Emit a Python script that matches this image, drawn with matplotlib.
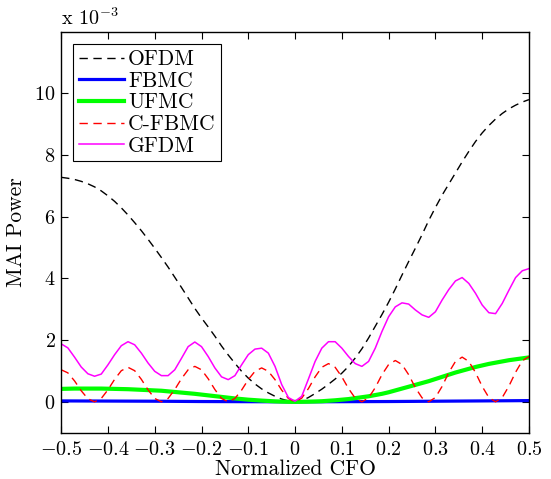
import numpy as np
import matplotlib
matplotlib.use('Agg')
import matplotlib.pyplot as plt
from matplotlib.ticker import FixedLocator, FuncFormatter

plt.rcParams['font.family'] = 'serif'
plt.rcParams['font.serif'] = ['cmr10']
plt.rcParams['mathtext.fontset'] = 'cm'
plt.rcParams['axes.formatter.use_mathtext'] = True

# normalized CFO grid, 71 points from -0.5 to 0.5 (step 1/70)
cfo = np.linspace(-0.5, 0.5, 71)

# MAI power, in units of 1e-3
ofdm = [7.28, 7.25, 7.21, 7.15, 7.07, 6.97, 6.84, 6.68, 6.50, 6.29,
        6.06, 5.81, 5.55, 5.27, 4.98, 4.68, 4.37, 4.04, 3.71, 3.37,
        3.03, 2.72, 2.43, 2.13, 1.81, 1.52, 1.25, 0.99, 0.77, 0.58,
        0.42, 0.29, 0.18, 0.09, 0.03, 0.00, 0.04, 0.14, 0.27, 0.41,
        0.57, 0.74, 0.93, 1.15, 1.42, 1.72, 2.07, 2.45, 2.83, 3.23,
        3.66, 4.11, 4.55, 4.98, 5.42, 5.88, 6.30, 6.70, 7.06, 7.42,
        7.78, 8.12, 8.44, 8.72, 8.96, 9.17, 9.35, 9.50, 9.62, 9.72,
        9.80]

fbmc_x = [-0.5, -0.4, -0.3, -0.2, -0.1, 0.0, 0.1, 0.2, 0.3, 0.4, 0.5]
fbmc = [0.03, 0.025, 0.02, 0.01, 0.005, 0.0, 0.005, 0.01, 0.02, 0.03, 0.04]

ufmc = [0.42, 0.425, 0.43, 0.43, 0.43, 0.43, 0.43, 0.425, 0.42, 0.415,
        0.41, 0.40, 0.39, 0.38, 0.37, 0.36, 0.34, 0.32, 0.30, 0.28,
        0.26, 0.235, 0.21, 0.185, 0.16, 0.135, 0.11, 0.09, 0.07, 0.055,
        0.04, 0.028, 0.016, 0.008, 0.002, 0.0, 0.002, 0.006, 0.012, 0.02,
        0.035, 0.05, 0.07, 0.09, 0.12, 0.15, 0.18, 0.22, 0.26, 0.31,
        0.37, 0.43, 0.49, 0.55, 0.61, 0.67, 0.74, 0.81, 0.88, 0.95,
        1.01, 1.07, 1.13, 1.18, 1.23, 1.27, 1.31, 1.35, 1.38, 1.41,
        1.44]

cfbmc = [1.04, 0.94, 0.68, 0.36, 0.10, 0.0, 0.11, 0.39, 0.73, 1.01,
         1.12, 1.01, 0.73, 0.39, 0.11, 0.0, 0.11, 0.40, 0.75, 1.04,
         1.15, 1.04, 0.75, 0.40, 0.11, 0.0, 0.11, 0.38, 0.72, 0.99,
         1.10, 0.99, 0.72, 0.38, 0.11, 0.0, 0.12, 0.43, 0.81, 1.12,
         1.24, 1.12, 0.81, 0.43, 0.12, 0.0, 0.13, 0.46, 0.88, 1.21,
         1.34, 1.21, 0.88, 0.46, 0.13, 0.0, 0.14, 0.50, 0.95, 1.31,
         1.45, 1.31, 0.95, 0.50, 0.14, 0.0, 0.14, 0.51, 0.96, 1.33,
         1.47]

gfdm = [1.88, 1.75, 1.45, 1.13, 0.91, 0.83, 0.90, 1.20, 1.53, 1.82,
        1.95, 1.85, 1.58, 1.26, 0.99, 0.85, 0.85, 1.04, 1.41, 1.79,
        1.94, 1.79, 1.47, 1.10, 0.81, 0.72, 0.85, 1.20, 1.53, 1.71,
        1.74, 1.58, 1.15, 0.56, 0.14, 0.02, 0.18, 0.74, 1.31, 1.74,
        1.95, 1.95, 1.74, 1.47, 1.24, 1.15, 1.31, 1.74, 2.28, 2.76,
        3.08, 3.21, 3.17, 2.98, 2.82, 2.74, 2.92, 3.30, 3.64, 3.92,
        4.03, 3.84, 3.52, 3.14, 2.89, 2.86, 3.19, 3.62, 4.03, 4.25,
        4.32]

escala = 1e-3

fig = plt.figure(figsize=(5.51, 4.79), dpi=100)
ax = fig.add_axes([0.111, 0.0967, 0.849, 0.837])

ax.plot(cfo, np.array(ofdm) * escala, color='k', lw=1.0, dashes=(6, 4), label='OFDM')
ax.plot(fbmc_x, np.array(fbmc) * escala, color='#0000ff', lw=2.3, label='FBMC')
ax.plot(cfo, np.array(ufmc) * escala, color='#00ff00', lw=3.0, label='UFMC')
ax.plot(cfo, np.array(cfbmc) * escala, color='#ff0000', lw=1.0, dashes=(6, 4), label='C-FBMC')
ax.plot(cfo, np.array(gfdm) * escala, color='#ff00ff', lw=1.1, label='GFDM')

ax.set_xlim(-0.5, 0.5)
ax.set_ylim(-1e-3, 12e-3)

xt = [-0.5, -0.4, -0.3, -0.2, -0.1, 0.0, 0.1, 0.2, 0.3, 0.4, 0.5]
yt = [0, 2e-3, 4e-3, 6e-3, 8e-3, 10e-3]
ax.xaxis.set_major_locator(FixedLocator(xt))
ax.yaxis.set_major_locator(FixedLocator(yt))
ax.xaxis.set_major_formatter(FuncFormatter(lambda v, p: '$%g$' % round(v, 2)))
ax.yaxis.set_major_formatter(FuncFormatter(lambda v, p: '$%g$' % round(v / escala, 2)))
ax.tick_params(direction='in', top=True, right=True, length=5, width=0.8,
               labelsize=14.5)
ax.tick_params(axis='x', pad=6)
ax.tick_params(axis='y', pad=4)
for s in ax.spines.values():
    s.set_linewidth(1.0)

ax.set_xlabel('Normalized CFO', fontsize=15.5, labelpad=0)
ax.set_ylabel('MAI Power', fontsize=15.5, labelpad=6)
ax.text(0.0, 1.017, r'x $10^{-3}$', transform=ax.transAxes, fontsize=14.5,
        ha='left', va='baseline')

leg = ax.legend(loc='upper left', bbox_to_anchor=(0.026, 0.969), fontsize=15.5,
                frameon=True, fancybox=False, framealpha=1, edgecolor='k',
                handlelength=2.1, handletextpad=0.2, labelspacing=0.1,
                borderpad=0.25, borderaxespad=0)
leg.get_frame().set_linewidth(0.8)

fig.savefig('out.png', dpi=100)
